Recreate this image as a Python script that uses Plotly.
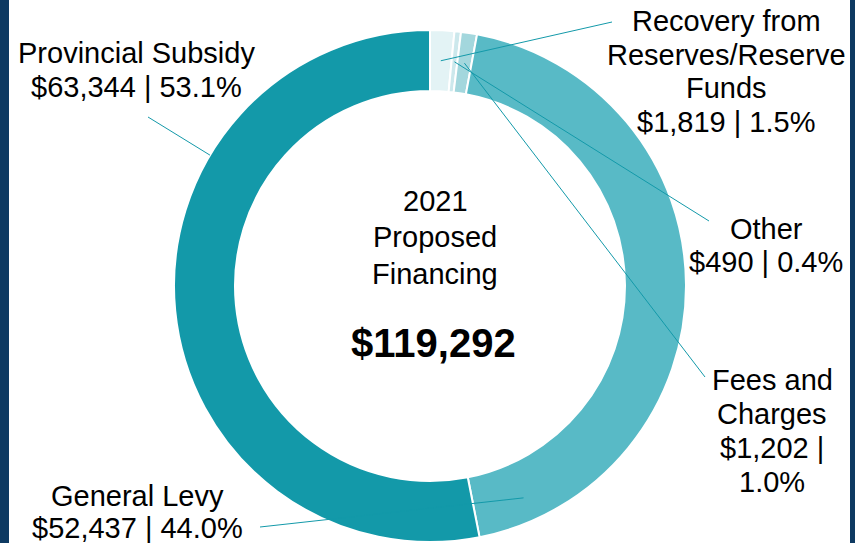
import math
import plotly.graph_objects as go

# Financing sources, listed clockwise from 12 o'clock
sources = ["Recovery from Reserves/Reserve Funds", "Other", "Fees and Charges",
           "General Levy", "Provincial Subsidy"]
amounts = [1819, 490, 1202, 52437, 63344]
shares = [1.5, 0.4, 1.0, 44.0, 53.1]
colors = ["#e3f3f5", "#cce8ec", "#a3d7dd", "#58bac6", "#1399a9"]

# Label lines for each source
label_lines = [
    ["Recovery from", "Reserves/Reserve", "Funds", "$1,819 | 1.5%"],
    ["Other", "$490 | 0.4%"],
    ["Fees and", "Charges", "$1,202 |", "1.0%"],
    ["General Levy", "$52,437 | 44.0%"],
    ["Provincial Subsidy", "$63,344 | 53.1%"],
]

total_label = "$119,292"
center_lines = ["2021", "Proposed", "Financing"]

W, H = 855, 543
CX, CY, R_OUT, R_IN = 430, 286, 256, 195
FONT = "Liberation Sans, Arial, sans-serif"
TEAL = "#1399a9"

# label placement (pixel centre x, first line y, line step)
label_pos = [(726, 21, 33.6), (766, 229, 33.5), (772, 380, 34), (137, 496, 32), (136, 53, 34)]
# leader line: end near the label, and where in the slice it starts (fraction of slice, radius)
leader_end = [(612, 22), (709, 221), (705, 377), (260, 527), (148, 117)]
leader_start = [(0.5, 0.5), (0.5, 0.5), (0.5, 0.5), (0.92, 0.6), (0.69, 1.0)]


def px(x, y):
    return x / W, 1 - y / H


fig = go.Figure(go.Pie(
    labels=sources, values=amounts, sort=False, direction="clockwise", rotation=0,
    hole=R_IN / R_OUT, textinfo="none", hoverinfo="label+value+percent",
    marker=dict(colors=colors, line=dict(color="white", width=2)),
    domain=dict(x=[(CX - R_OUT) / W, (CX + R_OUT) / W],
                y=[1 - (CY + R_OUT) / H, 1 - (CY - R_OUT) / H]),
    showlegend=False,
))

annotations = []
shapes = []

# side borders
shapes.append(dict(type="rect", xref="paper", yref="paper", x0=0, x1=9 / W, y0=0, y1=1,
                   fillcolor="#0e3a62", line=dict(width=0), layer="above"))
shapes.append(dict(type="rect", xref="paper", yref="paper", x0=850 / W, x1=1, y0=0, y1=1,
                   fillcolor="#0e3a62", line=dict(width=0), layer="above"))

tot = sum(amounts)
cum = 0
for i, v in enumerate(amounts):
    a0 = cum / tot * 360
    a1 = (cum + v) / tot * 360
    cum += v
    frac, rfrac = leader_start[i]
    ang = math.radians(a0 + frac * (a1 - a0))
    r = R_IN + rfrac * (R_OUT - R_IN)
    sx, sy = CX + r * math.sin(ang), CY - r * math.cos(ang)
    ex, ey = leader_end[i]
    x0, y0 = px(sx, sy)
    x1, y1 = px(ex, ey)
    shapes.append(dict(type="line", xref="paper", yref="paper", x0=x0, y0=y0, x1=x1, y1=y1,
                       line=dict(color=TEAL, width=1), layer="above"))
    lx, ly, step = label_pos[i]
    for k, line in enumerate(label_lines[i]):
        ax, ay = px(lx, ly + k * step)
        annotations.append(dict(x=ax, y=ay, xref="paper", yref="paper", text=line,
                                showarrow=False, xanchor="center", yanchor="middle",
                                font=dict(family=FONT, size=29, color="black")))

for k, line in enumerate(center_lines):
    ax, ay = px(435, 201 + k * 36.5)
    annotations.append(dict(x=ax, y=ay, xref="paper", yref="paper", text=line,
                            showarrow=False, xanchor="center", yanchor="middle",
                            font=dict(family=FONT, size=29, color="black")))
ax, ay = px(434, 343)
annotations.append(dict(x=ax, y=ay, xref="paper", yref="paper", text="<b>" + total_label + "</b>",
                        showarrow=False, xanchor="center", yanchor="middle",
                        font=dict(family=FONT, size=40, color="black")))

fig.update_layout(width=W, height=H, margin=dict(l=0, r=0, t=0, b=0),
                  paper_bgcolor="white", plot_bgcolor="white",
                  annotations=annotations, shapes=shapes)

fig.write_html("out.html")
